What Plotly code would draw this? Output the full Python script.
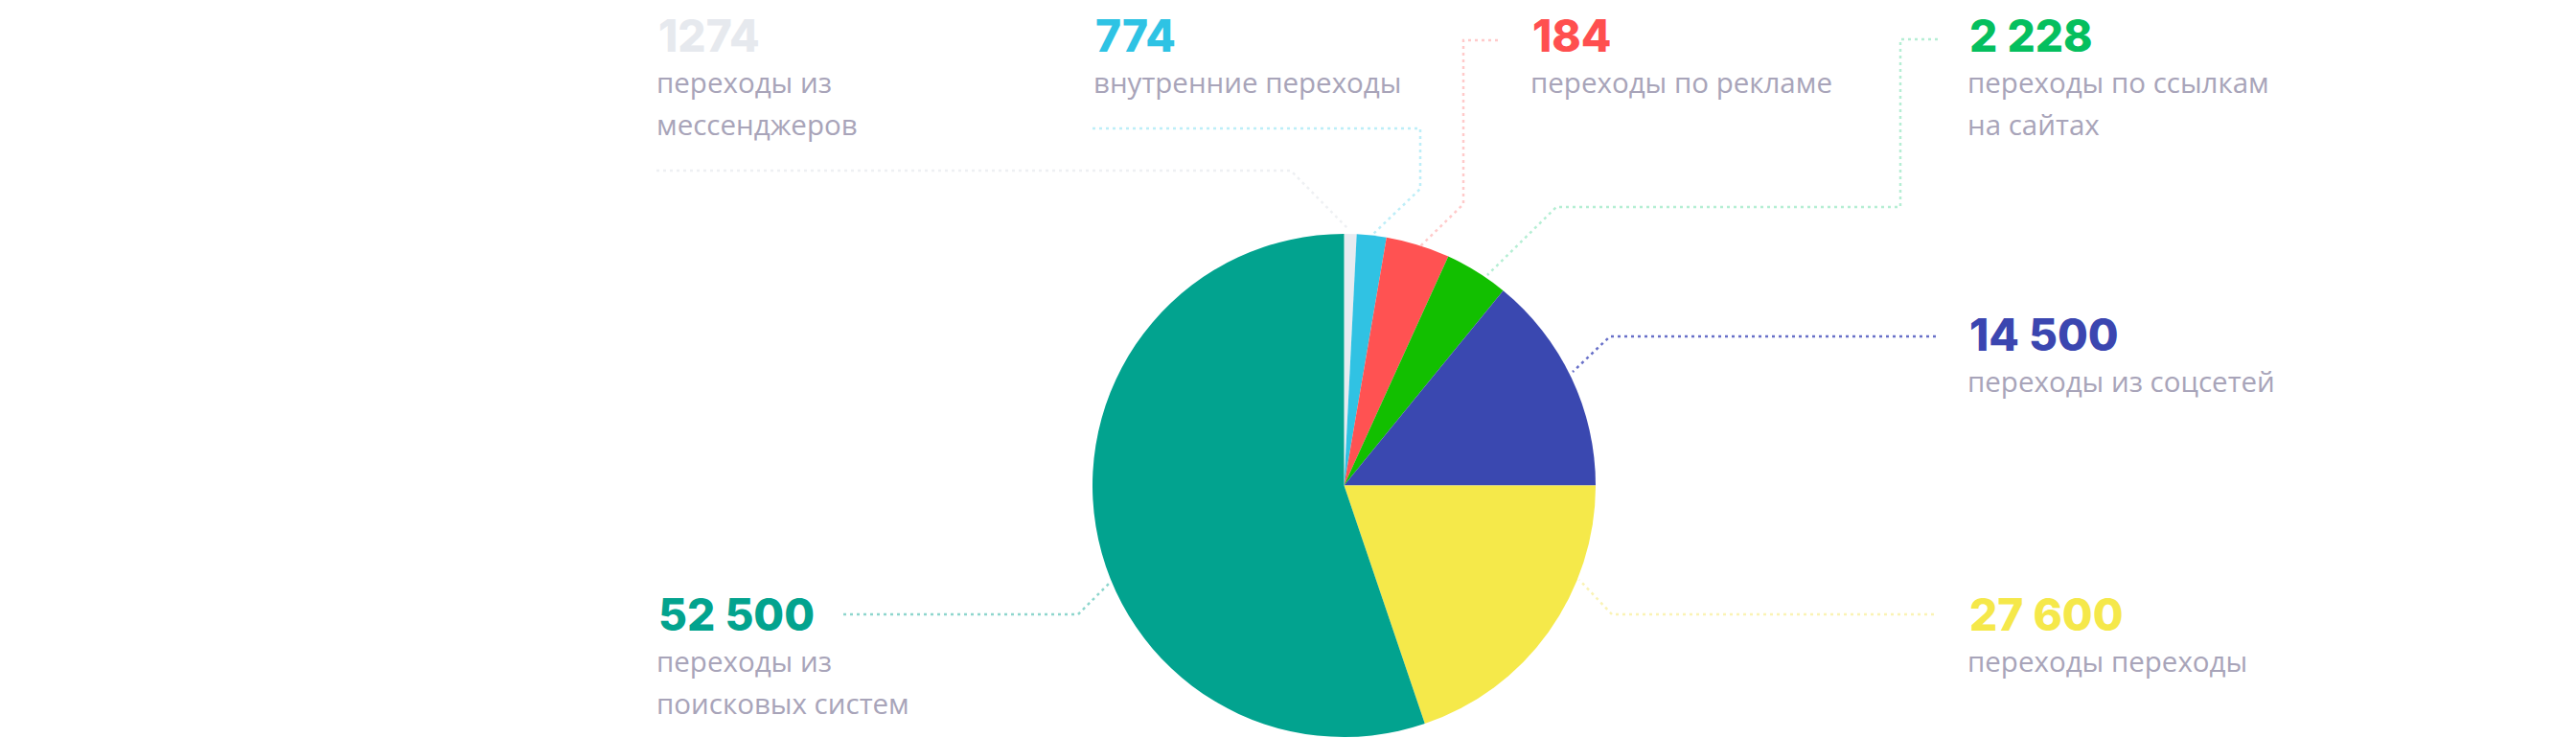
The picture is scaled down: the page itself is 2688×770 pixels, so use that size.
import plotly.graph_objects as go

# slices, clockwise from 12 o'clock (shares, %)
names = ["мессенджеры", "внутренние", "реклама", "сайты", "соцсети", "переходы", "поиск"]
shares = [0.8, 1.9, 4.1, 4.1, 14.1, 19.8, 55.2]
slice_colors = ["#e8ebf0", "#30c2e3", "#ff5252", "#12bf00", "#3a48b0", "#f5e94a", "#02a38f"]

# callout texts
numbers = ["1274", "774", "184", "2 228", "14 500", "27 600", "52 500"]
number_colors = ["#e6e9ee", "#2ec3e4", "#ff4f4f", "#05bf5e", "#3b46b0", "#f5e84a", "#03a38e"]
captions = [
    ["переходы из", "мессенджеров"],
    ["внутренние переходы"],
    ["переходы по рекламе"],
    ["переходы по ссылкам", "на сайтах"],
    ["переходы из соцсетей"],
    ["переходы переходы"],
    ["переходы из", "поисковых систем"],
]
leader_colors = ["#eef0f3", "#bdeef8", "#ffcaca", "#b5eed4", "#6870c8", "#faf3b5", "#8ed6cd"]

W, H = 2688, 770
OFF = 8  # page body margin, figure sits 8px in from the window corner
cx, cy, r = 1402.5, 506.5, 262.5

# callout geometry in screen px (x of text, y of number centre)
text_pos = [(685, 37), (1141, 37), (1597, 37), (2053, 37), (2053, 349), (2053, 641), (685, 641)]
leaders = [
    [(685, 178), (1347, 178), (1408, 240)],
    [(1140, 134), (1482, 134), (1482, 197), (1433, 244)],
    [(1563, 42), (1527, 42), (1527, 213), (1482, 257)],
    [(2022, 41), (1983, 41), (1983, 216), (1624, 216), (1552, 287)],
    [(2020, 351), (1680, 351), (1641, 388)],
    [(2018, 641), (1682, 641), (1648, 605)],
    [(880, 641), (1125, 641), (1158, 608)],
]

fig = go.Figure()

for pts, col in zip(leaders, leader_colors):
    fig.add_trace(go.Scatter(
        x=[p[0] for p in pts], y=[p[1] for p in pts],
        mode="lines", line=dict(color=col, width=2.5, dash="3px,4px"),
        hoverinfo="skip", showlegend=False,
    ))

fig.add_trace(go.Pie(
    labels=names, values=shares,
    marker=dict(colors=slice_colors, line=dict(width=0)),
    sort=False, direction="clockwise", rotation=0,
    textinfo="none", hoverinfo="label+percent", showlegend=False,
    domain=dict(
        x=[(cx - OFF - r) / W, (cx - OFF + r) / W],
        y=[(H - (cy - OFF) - r) / H, (H - (cy - OFF) + r) / H],
    ),
))

for (x, y), num, ncol, lines in zip(text_pos, numbers, number_colors, captions):
    fig.add_annotation(
        x=x, y=y, text=num, showarrow=False,
        xanchor="left", yanchor="middle", xref="x", yref="y",
        font=dict(family="Inter", size=46, color=ncol, weight=800),
    )
    for i, line in enumerate(lines):
        fig.add_annotation(
            x=x - 2, y=y + 48 + 44 * i, text=line, showarrow=False,
            xanchor="left", yanchor="middle", xref="x", yref="y",
            font=dict(family="Open Sans", size=29.5, color="#a8a4b9"),
        )

fig.update_layout(
    width=W, height=H,
    margin=dict(l=0, r=0, t=0, b=0),
    paper_bgcolor="white", plot_bgcolor="white",
    xaxis=dict(range=[OFF, W + OFF], visible=False, fixedrange=True),
    yaxis=dict(range=[H + OFF, OFF], visible=False, fixedrange=True),
)

fig.write_html("out.html")
